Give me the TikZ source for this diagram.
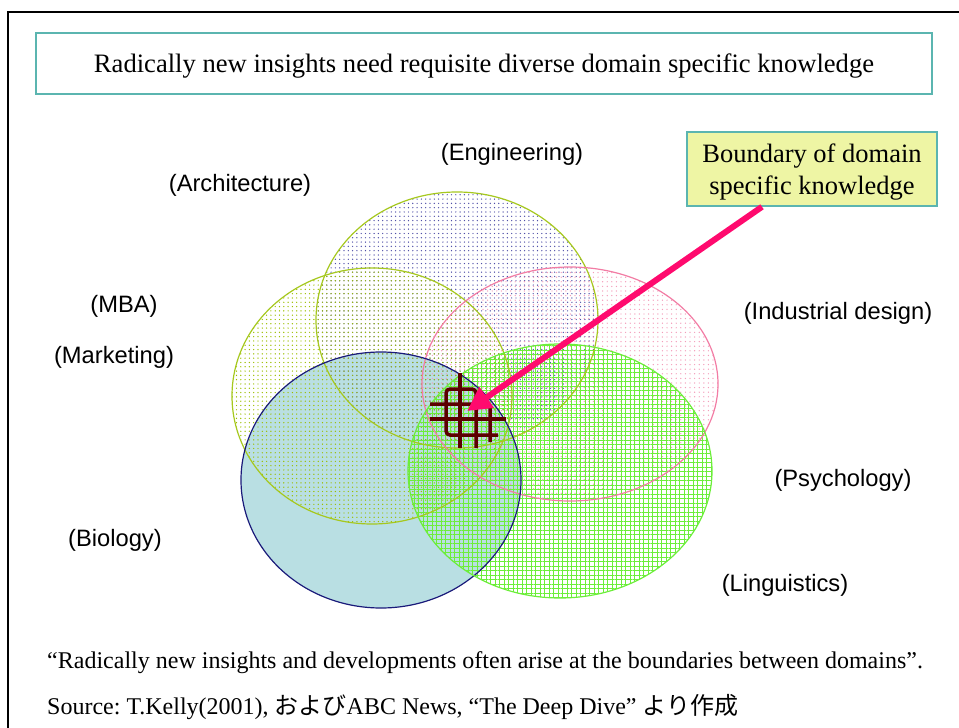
\documentclass[tikz,border=0pt]{standalone}
\usepackage{fontspec}
\setmainfont{Liberation Serif}
\setsansfont{Liberation Sans}
\newfontfamily\jpfont{Noto Sans CJK JP}
\usetikzlibrary{patterns.meta,arrows.meta}
\definecolor{boxteal}{HTML}{5BB5B0}
\definecolor{calloutfill}{HTML}{EEF5A4}
\definecolor{olivel}{HTML}{A6C81E}
\definecolor{engdot}{HTML}{5050A8}
\definecolor{mbadot}{HTML}{9CBE00}
\definecolor{pinkl}{HTML}{F27CA4}
\definecolor{pinkdot}{HTML}{F39CB9}
\definecolor{navyl}{HTML}{1A1A7A}
\definecolor{biofill}{HTML}{B9DFE3}
\definecolor{greenl}{HTML}{6CEE3A}
\definecolor{arrowpink}{HTML}{FF0A6E}
\definecolor{maroon1}{HTML}{5C0000}
\frenchspacing
\begin{document}
\begin{tikzpicture}[x=1bp,y=-1bp,
  domlabel/.style={font=\sffamily\fontsize{23.7bp}{28bp}\selectfont, inner sep=0pt},
  serifbox/.style={draw=boxteal, line width=1.6bp, inner sep=0pt, align=center},
  gridsym/.style={draw=maroon1, line width=3.5bp},
  outl/.style={line width=1.2bp},
  bottomtext/.style={anchor=base west, inner sep=0pt, font=\fontsize{24bp}{28bp}\selectfont}
]
\useasboundingbox (0,0) rectangle (959,728);
% frame
\draw[line width=2.5bp] (8,728) -- (8,12) -- (959,12);
% title
\node[serifbox, minimum width=896bp, minimum height=61bp, text height=24bp, text depth=6bp,
  font=\fontsize{26.6bp}{30bp}\selectfont] (title) at (484,63.5)
  {Radically new insights need requisite diverse domain specific knowledge};
% ellipses: fills
\fill[biofill] (381,480) ellipse [x radius=140bp, y radius=128bp];
\fill[pattern={Dots[distance=4.3bp, radius=0.7bp]}, pattern color=engdot]
  (457,320) ellipse [x radius=141bp, y radius=128bp];
\fill[pattern={Dots[distance=4.3bp, radius=0.7bp]}, pattern color=mbadot]
  (372,396) ellipse [x radius=140bp, y radius=128bp];
\fill[pattern={Dots[distance=4.6bp, radius=0.7bp]}, pattern color=pinkdot]
  (570,384) ellipse [x radius=148bp, y radius=117bp];
\fill[pattern={Lines[distance=4.5bp, angle=0, line width=0.8bp]}, pattern color=greenl]
  (560,471) ellipse [x radius=152bp, y radius=127bp];
\fill[pattern={Lines[distance=4.5bp, angle=90, line width=0.8bp]}, pattern color=greenl]
  (560,471) ellipse [x radius=152bp, y radius=127bp];
% ellipses: outlines
\draw[outl, olivel] (457,320) ellipse [x radius=141bp, y radius=128bp];
\draw[outl, olivel] (372,396) ellipse [x radius=140bp, y radius=128bp];
\draw[outl, pinkl] (570,384) ellipse [x radius=148bp, y radius=117bp];
\draw[outl, navyl] (381,480) ellipse [x radius=140bp, y radius=128bp];
\draw[outl, greenl] (560,471) ellipse [x radius=152bp, y radius=127bp];
% labels
\node[domlabel] (eng) at (512,154) {(Engineering)};
\node[domlabel] (arch) at (240,185) {(Architecture)};
\node[domlabel] (mba) at (124,306) {(MBA)};
\node[domlabel] (mkt) at (114,357) {(Marketing)};
\node[domlabel] (ind) at (838,313) {(Industrial design)};
\node[domlabel] (psy) at (843,480) {(Psychology)};
\node[domlabel] (bio) at (115,540) {(Biology)};
\node[domlabel] (ling) at (785,585) {(Linguistics)};
% boundary grid symbol
\draw[gridsym, rounded corners=4bp] (498,435) -- (446,435) -- (446,389) -- (476,389) -- (476,448);
\draw[gridsym, rounded corners=4bp] (430,404) -- (490,404) -- (490,442);
\draw[gridsym] (430,419) -- (506,419);
\draw[gridsym] (460,373) -- (460,448);
% callout
\node[serifbox, fill=calloutfill, minimum width=250bp, minimum height=74bp,
  font=\fontsize{26.5bp}{32bp}\selectfont] (callout) at (812,169)
  {\rule{0pt}{25.6bp}Boundary of domain\\specific knowledge};
\coordinate (hit) at (467,411);
\draw[arrowpink, line width=6bp, -{Triangle[length=24bp, width=24bp]}]
  ([xshift=-50bp]callout.south) -- (hit);
% bottom texts
\node[bottomtext] (quote) at (47,668)
  {“Radically new insights and developments often arise at the boundaries between domains”.};
\node[bottomtext] (source) at (47,714)
  {Source: T.Kelly(2001), {\jpfont および}ABC News, “The Deep Dive” {\jpfont より作成}};
\end{tikzpicture}
\end{document}
